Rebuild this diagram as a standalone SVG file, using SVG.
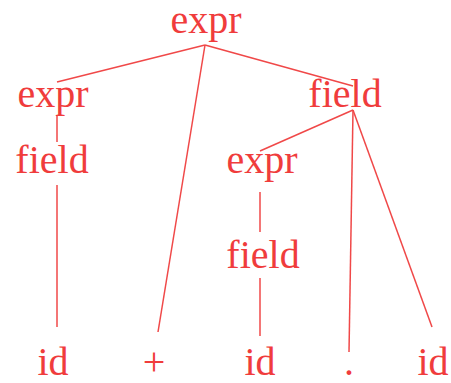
<svg xmlns="http://www.w3.org/2000/svg" width="451" height="383" viewBox="0 0 451 383">
<style>
text{font-family:"Liberation Serif","Times New Roman",serif;font-size:40px;fill:#f03c3c;text-anchor:middle}
line{stroke:#f04848;stroke-width:1.5;fill:none}
</style>
<rect width="451" height="383" fill="#ffffff"/>
<g id="connectors">
<line x1="205" y1="45" x2="57" y2="82"/>
<line x1="205" y1="45" x2="158" y2="332"/>
<line x1="205" y1="45" x2="353" y2="86"/>
<line x1="57" y1="115" x2="57" y2="142"/>
<line x1="57" y1="185" x2="57" y2="327"/>
<line x1="353" y1="110" x2="260" y2="151"/>
<line x1="353" y1="110" x2="349" y2="352"/>
<line x1="353" y1="110" x2="432" y2="327"/>
<line x1="260" y1="192" x2="260" y2="232"/>
<line x1="260" y1="278" x2="260" y2="336"/>
</g>
<g id="n-root"><text x="206" y="33">expr</text></g>
<g id="n-expr-left"><text x="53" y="107">expr</text></g>
<g id="n-field-left"><text x="52" y="173">field</text></g>
<g id="n-field-right"><text x="345" y="107">field</text></g>
<g id="n-expr-mid"><text x="262" y="173">expr</text></g>
<g id="n-field-mid"><text x="263" y="268">field</text></g>
<g id="n-id1"><text x="53" y="375">id</text></g>
<g id="n-plus"><text x="154" y="375">+</text></g>
<g id="n-id2"><text x="260" y="375">id</text></g>
<g id="n-dot"><text x="349" y="375">.</text></g>
<g id="n-id3"><text x="433" y="375">id</text></g>
</svg>
